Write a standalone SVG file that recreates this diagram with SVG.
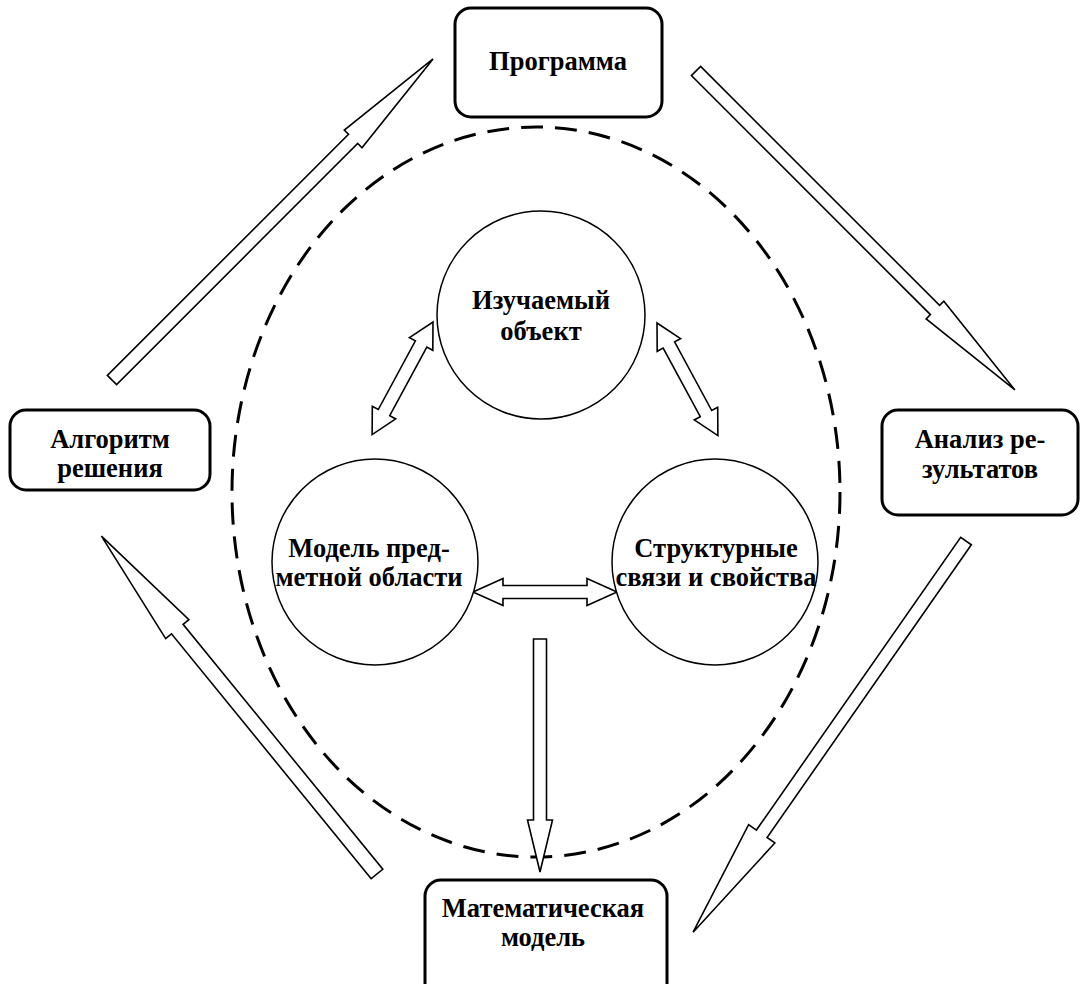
<svg xmlns="http://www.w3.org/2000/svg" width="1084" height="984" viewBox="0 0 1084 984">
<style>
.box{fill:#fff;stroke:#000;stroke-width:3}
.circ{fill:#fff;stroke:#000;stroke-width:1.5}
.arr{fill:#fff;stroke:#000;stroke-width:1.6;stroke-linejoin:miter}
.t{font-family:"Liberation Serif","Times New Roman",serif;font-weight:bold;font-size:26.5px;text-anchor:middle;fill:#000}
</style>
<rect width="1084" height="984" fill="#fff"/>
<ellipse cx="536" cy="492" rx="304" ry="365" fill="none" stroke="#000" stroke-width="3" stroke-dasharray="22,12"/>
<g id="connectors">
<path class="arr" transform="translate(112,380) rotate(-45)" d="M0,-6.5 H341 V-12.5 L454,0 L341,12.5 V6.5 H0 Z"/>
<path class="arr" transform="translate(696,71) rotate(45)" d="M0,-6.5 H338 V-12.5 L451,0 L338,12.5 V6.5 H0 Z"/>
<path class="arr" transform="translate(966,541) rotate(124.9)" d="M0,-6.5 H357 V-16 L477,0 L357,16 V6.5 H0 Z"/>
<path class="arr" transform="translate(377,874) rotate(-129.2)" d="M0,-7.5 H316 V-15 L436,0 L316,15 V7.5 H0 Z"/>
<path class="arr" transform="translate(433,322) rotate(118.4)" d="M0,0 L25,-13.3 V-6.5 H103 V-13.3 L128,0 L103,13.3 V6.5 H25 V13.3 Z"/>
<path class="arr" transform="translate(657,323) rotate(61.6)" d="M0,0 L25,-13.3 V-6.5 H103 V-13.3 L128,0 L103,13.3 V6.5 H25 V13.3 Z"/>
<path class="arr" transform="translate(473,592)" d="M0,0 L30,-13.5 V-6.5 H114 V-13.5 L144,0 L114,13.5 V6.5 H30 V13.5 Z"/>
<path class="arr" transform="translate(540,639) rotate(90)" d="M0,-6.5 H181 V-12.5 L233,0 L181,12.5 V6.5 H0 Z"/>
</g>
<g id="n-program"><rect class="box" x="455" y="8" width="207" height="109" rx="16"/><text class="t" x="558" y="70">Программа</text></g>
<g id="n-algorithm"><rect class="box" x="10" y="410" width="200" height="80" rx="16"/><text class="t" x="110" y="448">Алгоритм</text><text class="t" x="110" y="477">решения</text></g>
<g id="n-analysis"><rect class="box" x="882" y="410" width="196" height="105" rx="16"/><text class="t" x="980" y="448">Анализ ре-</text><text class="t" x="980" y="478">зультатов</text></g>
<g id="n-mathmodel"><rect class="box" x="425" y="880" width="242" height="120" rx="16"/><text class="t" x="543" y="917">Математическая</text><text class="t" x="543" y="946">модель</text></g>
<g id="n-object"><circle class="circ" cx="541" cy="315" r="104"/><text class="t" x="541" y="309">Изучаемый</text><text class="t" x="541" y="340">объект</text></g>
<g id="n-domain"><circle class="circ" cx="375" cy="562" r="103"/><text class="t" x="369" y="557">Модель пред-</text><text class="t" x="369" y="586">метной области</text></g>
<g id="n-structure"><circle class="circ" cx="715" cy="562" r="103"/><text class="t" x="716" y="557">Структурные</text><text class="t" x="716" y="586">связи и свойства</text></g>
</svg>
